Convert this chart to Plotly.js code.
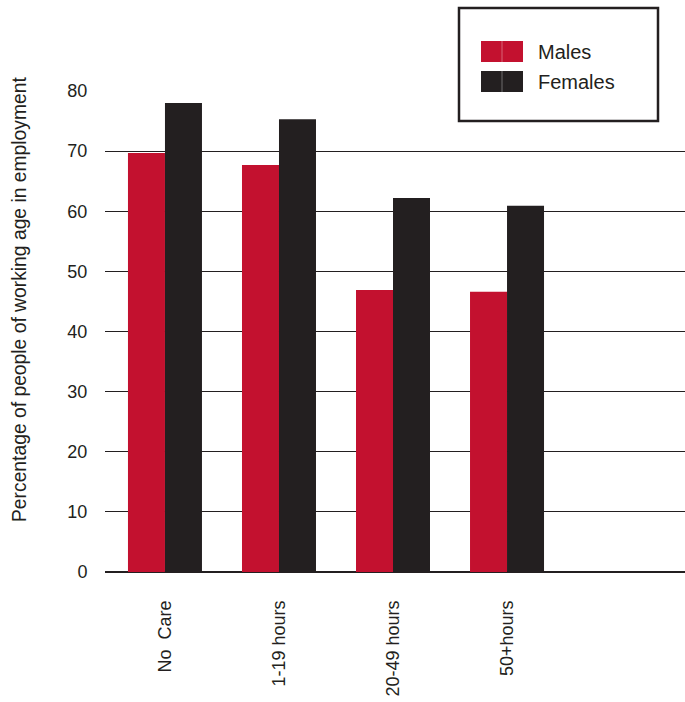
<!DOCTYPE html>
<html>
<head>
<meta charset="utf-8">
<script src="https://cdn.plot.ly/plotly-3.0.1.min.js"></script>
<style>html,body{margin:0;padding:0;background:#fff;}#chart{width:685px;height:702px;}</style>
</head>
<body>
<div id="chart"></div>
<script>
// ---- data ----
var categories = ["No\u00a0 Care", "1-19 hours", "20-49 hours", "50+hours", " "];
var seriesNames = ["Males", "Females"];
var males   = [69.7, 67.7, 46.9, 46.6];
var females = [78.0, 75.3, 62.2, 60.9];
var yTicks = [0, 10, 20, 30, 40, 50, 60, 70, 80];
var yTitle = "Percentage of people of working age in employment";

// ---- style ----
var RED = "#c3112f", BLACK = "#231f20";
var FONT = "Liberation Sans, Arial, Helvetica, sans-serif";
var W = 685, H = 702, L = 105, R = 0, T = 91, B = 130;
var pw = W - L - R, ph = H - T - B;
function px(x) { return (x - L) / pw; }
function py(y) { return (H - B - y) / ph; }

var traces = [
  {type: "bar", name: seriesNames[0], x: categories.slice(0, males.length), y: males,
   marker: {color: RED, line: {width: 0}}, hoverinfo: "skip"},
  {type: "bar", name: seriesNames[1], x: categories.slice(0, females.length), y: females,
   marker: {color: BLACK, line: {width: 0}}, hoverinfo: "skip"}
];

var shapes = [
  {type: "rect", xref: "paper", yref: "paper", x0: px(459), x1: px(658), y0: py(121), y1: py(8),
   line: {color: BLACK, width: 2.5}, fillcolor: "#ffffff", layer: "above"},
  {type: "rect", xref: "paper", yref: "paper", x0: px(481), x1: px(523), y0: py(62), y1: py(41),
   line: {width: 0}, fillcolor: RED, layer: "above"},
  {type: "rect", xref: "paper", yref: "paper", x0: px(481), x1: px(523), y0: py(92), y1: py(71),
   line: {width: 0}, fillcolor: BLACK, layer: "above"},
  {type: "line", xref: "paper", yref: "paper", x0: px(502), x1: px(502), y0: py(62), y1: py(41),
   line: {color: "rgba(255,255,255,0.35)", width: 1}, layer: "above"},
  {type: "line", xref: "paper", yref: "paper", x0: px(502), x1: px(502), y0: py(92), y1: py(71),
   line: {color: "rgba(255,255,255,0.35)", width: 1}, layer: "above"}
];

var annotations = [
  {xref: "paper", yref: "paper", x: px(536), y: py(52), xanchor: "left", yanchor: "middle",
   text: seriesNames[0], showarrow: false, font: {family: FONT, size: 20, color: BLACK}},
  {xref: "paper", yref: "paper", x: px(536), y: py(82), xanchor: "left", yanchor: "middle",
   text: seriesNames[1], showarrow: false, font: {family: FONT, size: 20, color: BLACK}},
  {xref: "paper", yref: "paper", x: px(19), y: py(300), xanchor: "center", yanchor: "middle",
   textangle: -90, text: yTitle, showarrow: false, font: {family: FONT, size: 19.3, color: BLACK}}
];

var layout = {
  width: W, height: H,
  margin: {l: L, r: R, t: T, b: B, pad: 0},
  paper_bgcolor: "#ffffff", plot_bgcolor: "#ffffff",
  font: {family: FONT, color: BLACK},
  showlegend: false,
  barmode: "group", bargap: 0.351, bargroupgap: 0,
  xaxis: {
    type: "category", categoryorder: "array", categoryarray: categories,
    range: [-0.526, 4.561], fixedrange: true,
    tickangle: -90, tickfont: {family: FONT, size: 18, color: BLACK},
    ticks: "outside", ticklen: 20, tickcolor: "rgba(0,0,0,0)",
    showgrid: false, showline: true, linecolor: BLACK, linewidth: 1.2, zeroline: false
  },
  yaxis: {
    range: [0, 80], tickvals: yTicks, ticktext: yTicks.map(String), fixedrange: true,
    tickfont: {family: FONT, size: 18, color: BLACK},
    ticks: "outside", ticklen: 13, tickcolor: "rgba(0,0,0,0)",
    showgrid: true, gridcolor: BLACK, gridwidth: 1.2,
    zeroline: true, zerolinecolor: BLACK, zerolinewidth: 1.2,
    showline: false
  },
  shapes: shapes,
  annotations: annotations
};

Plotly.newPlot("chart", traces, layout, {displayModeBar: false, staticPlot: true});
</script>
</body>
</html>
